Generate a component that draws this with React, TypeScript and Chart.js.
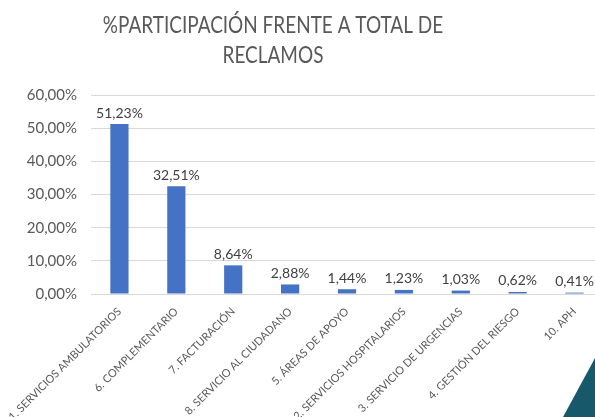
import React, { useEffect, useRef } from "react";
import { Chart, registerables } from "chart.js";

Chart.register(...registerables);

const titleLines = ["%PARTICIPACIÓN FRENTE A TOTAL DE", "RECLAMOS"];
const categories = [
  "1. SERVICIOS AMBULATORIOS",
  "6. COMPLEMENTARIO",
  "7. FACTURACIÓN",
  "8. SERVICIO AL CIUDADANO",
  "5. ÁREAS DE APOYO",
  "2. SERVICIOS HOSPITALARIOS",
  "3. SERVICIO DE URGENCIAS",
  "4. GESTIÓN DEL RIESGO",
  "10. APH",
];
const values = [51.23, 32.51, 8.64, 2.88, 1.44, 1.23, 1.03, 0.62, 0.41];
const yMin = 0;
const yMax = 60;
const yStep = 10;

const FONT = "Lato, 'Open Sans', sans-serif";
const fmt = (v: number) => v.toFixed(2).replace(".", ",") + "%";

const titlePlugin = {
  id: "customTitle",
  afterDraw(chart: any) {
    const ctx = chart.ctx;
    ctx.save();
    ctx.font = `24px ${FONT}`;
    ctx.fillStyle = "#595959";
    ctx.textAlign = "center";
    ctx.textBaseline = "alphabetic";
    ctx.translate(273, 0);
    ctx.scale(0.79, 1);
    ctx.fillText(titleLines[0], 0, 33);
    ctx.fillText(titleLines[1], 0, 63);
    ctx.restore();
  },
};

const valueLabelPlugin = {
  id: "valueLabels",
  afterDatasetsDraw(chart: any) {
    const ctx = chart.ctx;
    const meta = chart.getDatasetMeta(0);
    ctx.save();
    ctx.font = `14px ${FONT}`;
    ctx.fillStyle = "#404040";
    ctx.textAlign = "center";
    ctx.textBaseline = "bottom";
    meta.data.forEach((bar: any, i: number) => {
      ctx.fillText(fmt(values[i]), bar.x, bar.y - 4);
    });
    ctx.restore();
  },
};

export default function App() {
  const ref = useRef<HTMLCanvasElement>(null);
  useEffect(() => {
    if (!ref.current) return;
    const chart = new Chart(ref.current, {
      type: "bar",
      data: {
        labels: categories,
        datasets: [
          {
            data: values,
            backgroundColor: "#4472C4",
            barPercentage: 0.32,
            categoryPercentage: 1,
          },
        ],
      },
      options: {
        responsive: false,
        animation: false,
        layout: { padding: { top: 95, right: 0, bottom: 0, left: 0 } },
        plugins: {
          legend: { display: false },
          title: { display: false },
          tooltip: { enabled: false },
        },
        scales: {
          x: {
            grid: { display: false },
            border: { display: false },
            ticks: {
              autoSkip: false,
              maxRotation: 45,
              minRotation: 45,
              padding: 3,
              color: "#595959",
              font: { family: FONT, size: 11 },
            },
            afterFit(axis: any) {
              axis.height = 123;
              axis.paddingLeft = 0;
              axis.paddingRight = 0;
            },
          },
          y: {
            min: yMin,
            max: yMax,
            grid: { color: "#D9D9D9", drawTicks: false, lineWidth: 1 },
            border: { display: false },
            ticks: {
              stepSize: yStep,
              padding: 14,
              color: "#595959",
              font: { family: FONT, size: 15 },
              callback: (v: any) => fmt(Number(v)),
            },
            afterFit(axis: any) {
              axis.width = 91;
            },
          },
        },
      },
      plugins: [titlePlugin, valueLabelPlugin],
    });
    return () => chart.destroy();
  }, []);

  return (
    <div
      style={{
        position: "absolute",
        left: 0,
        top: 0,
        width: 595,
        height: 417,
        overflow: "hidden",
        background: "#ffffff",
      }}
    >
      <canvas ref={ref} width={603} height={417} style={{ display: "block" }} />
      <div
        style={{
          position: "absolute",
          left: 0,
          top: 0,
          width: 595,
          height: 417,
          background: "#17596A",
          clipPath: "polygon(563px 417px, 595px 358px, 595px 417px)",
        }}
      />
    </div>
  );
}
